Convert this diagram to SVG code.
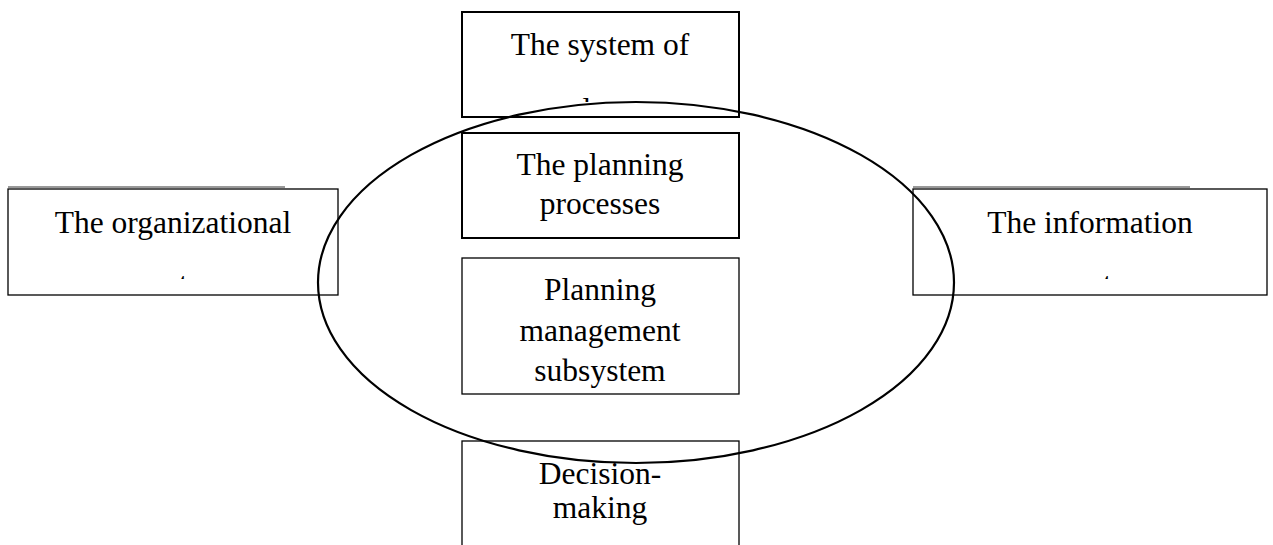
<svg xmlns="http://www.w3.org/2000/svg" width="1273" height="545" viewBox="0 0 1273 545">
<style>
.box{fill:#fff;stroke:#000;stroke-width:1.3}
.boxb{fill:#fff;stroke:#000;stroke-width:2}
.t{font-family:"Liberation Serif","Times New Roman",serif;font-size:31.5px;fill:#000;text-anchor:middle}
.edge{fill:none;stroke:#333;stroke-width:1}
.ell{fill:none;stroke:#000;stroke-width:2.2}
</style>
<defs>
<clipPath id="c1"><rect x="578" y="98" width="16" height="4"/></clipPath>
<clipPath id="c2"><rect x="176" y="275" width="14" height="4"/></clipPath>
<clipPath id="c3"><rect x="1099" y="275" width="14" height="4"/></clipPath>
</defs>
<rect width="1273" height="545" fill="#fff"/>
<g id="node-system">
<rect class="boxb" x="462" y="12" width="277" height="105"/>
<text class="t" x="600" y="55">The system of</text>
<text class="t" x="600" y="120" clip-path="url(#c1)">plans</text>
</g>
<g id="node-planning-processes">
<rect class="boxb" x="462" y="133" width="277" height="105"/>
<text class="t" x="600" y="175">The planning</text>
<text class="t" x="600" y="214">processes</text>
</g>
<g id="node-subsystem">
<rect class="box" x="462" y="258" width="277" height="136"/>
<text class="t" x="600" y="300">Planning</text>
<text class="t" x="600" y="341">management</text>
<text class="t" x="600" y="381">subsystem</text>
</g>
<g id="node-decision">
<rect class="box" x="462" y="441" width="277" height="120"/>
<text class="t" x="600" y="484">Decision-</text>
<text class="t" x="600" y="518">making</text>
</g>
<g id="node-organizational">
<line class="edge" x1="8" y1="187" x2="285" y2="187"/>
<rect class="box" x="8" y="189" width="330" height="106"/>
<text class="t" x="173" y="233">The organizational</text>
<text class="t" x="173" y="294" clip-path="url(#c2)">structure</text>
</g>
<g id="node-information">
<line class="edge" x1="913" y1="187" x2="1190" y2="187"/>
<rect class="box" x="913" y="189" width="354" height="106"/>
<text class="t" x="1090" y="233">The information</text>
<text class="t" x="1097" y="294" clip-path="url(#c3)">structure</text>
</g>
<g id="connectors">
<ellipse class="ell" cx="636" cy="282.5" rx="318" ry="180.5"/>
</g>
</svg>
